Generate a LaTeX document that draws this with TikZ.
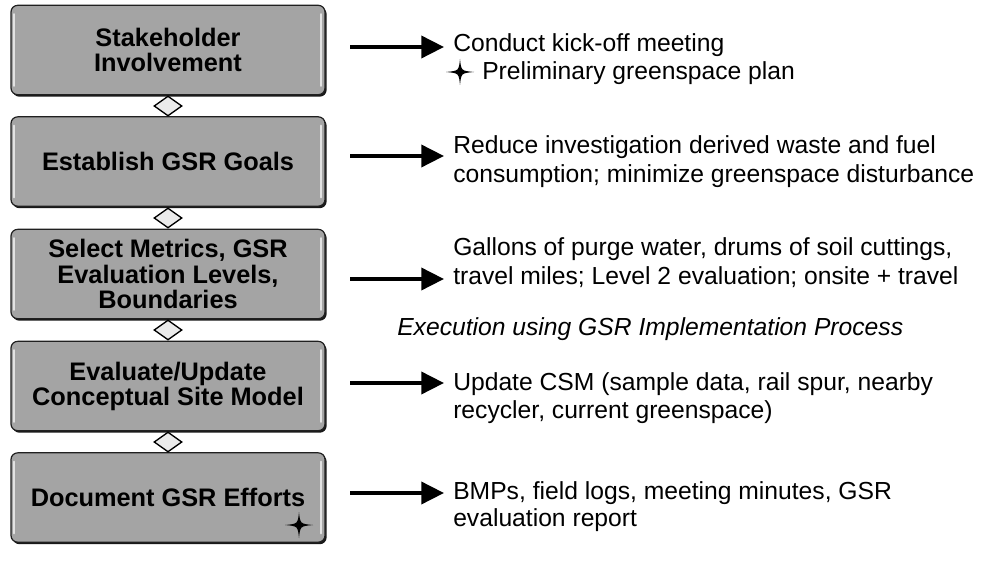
\documentclass[tikz,border=0pt]{standalone}
\usepackage{fontspec}
\setmainfont{Liberation Sans}
\usetikzlibrary{shapes.geometric,arrows.meta,shadows}
\definecolor{boxgray}{HTML}{A4A4A4}
\definecolor{boxline}{HTML}{202020}
\definecolor{hilite}{HTML}{E2E2E2}
\definecolor{diafill}{HTML}{EBEBEB}
\begin{document}
\begin{tikzpicture}[x=0.75pt,y=-0.75pt,
  stepbox/.style={rectangle, rounded corners=5pt, fill=boxgray, draw=boxline, line width=0.9pt,
    minimum width=235.5pt, minimum height=67pt, align=center, inner sep=2pt,
    font=\bfseries\fontsize{19}{18.8}\selectfont,
    drop shadow={shadow xshift=1.2pt, shadow yshift=-1.5pt, fill=black, opacity=0.9}},
  hl/.style={draw=hilite, line width=1.6pt, line cap=round},
  joint/.style={diamond, draw=black, line width=1pt, fill=diafill, inner sep=0pt,
    minimum width=21pt, minimum height=15pt},
  txt/.style={anchor=base west, inner sep=0pt, font=\fontsize{18.5}{21.75}\selectfont},
  itxt/.style={txt, font=\itshape\fontsize{18.5}{21.75}\selectfont},
  arr/.style={line width=2.7pt, -{Triangle[length=17pt,width=16.5pt]}},
  fstar/.pic={\fill[black] (0,-13) .. controls (1.2,-1.2) .. (14,0) .. controls (1.2,1.2) .. (0,13)
     .. controls (-1.2,1.2) .. (-14,0) .. controls (-1.2,-1.2) .. (0,-13) -- cycle;}
]
\useasboundingbox (0,0) rectangle (987,580);

% boxes
\node[stepbox] (b1) at (168,50) {Stakeholder\\Involvement};
\node[stepbox] (b2) at (168,161.5) {Establish GSR Goals};
\node[stepbox] (b3) at (168,274) {Select Metrics, GSR\\Evaluation Levels,\\Boundaries};
\node[stepbox] (b4) at (168,386) {Evaluate/Update\\Conceptual Site Model};
\node[stepbox] (b5) at (168,497.5) {Document GSR Efforts};

% highlights
\foreach \b in {b1,b2,b3,b4,b5}{
  \draw[hl] ([xshift=3pt,yshift=-7pt]\b.north west) -- ([xshift=3pt,yshift=7pt]\b.south west);
  \draw[hl] ([xshift=-3.5pt,yshift=-7pt]\b.north east) -- ([xshift=-3.5pt,yshift=7pt]\b.south east);
}

% joints
\node[joint] (d1) at (168,106) {};
\node[joint] (d2) at (168,218) {};
\node[joint] (d3) at (168,330) {};
\node[joint] (d4) at (168,442) {};

% star inside last box
\pic at (299,525) {fstar};

% texts
\node[txt] (t1a) at (453,52) {Conduct kick-off meeting};
\node[txt] (t1b) at (482,80) {Preliminary greenspace plan};
\pic at (460,72) {fstar};

\node[txt] (t2a) at (453,154) {Reduce investigation derived waste and fuel};
\node[txt] (t2b) at (453,183) {consumption; minimize greenspace disturbance};

\node[txt] (t3a) at (453,256) {Gallons of purge water, drums of soil cuttings,};
\node[txt] (t3b) at (453,285) {travel miles; Level 2 evaluation; onsite + travel};

\node[itxt] (ti) at (397,335) {Execution using GSR Implementation Process};

\node[txt] (t4a) at (453,390) {Update CSM (sample data, rail spur, nearby};
\node[txt] (t4b) at (453,418) {recycler, current greenspace)};

\node[txt] (t5a) at (453,499) {BMPs, field logs, meeting minutes, GSR};
\node[txt] (t5b) at (453,526) {evaluation report};

% arrows
\coordinate (a1s) at (350,47);  \coordinate (a1e) at (444,47);
\coordinate (a2s) at (350,156); \coordinate (a2e) at (444,156);
\coordinate (a3s) at (350,279); \coordinate (a3e) at (444,279);
\coordinate (a4s) at (350,383); \coordinate (a4e) at (444,383);
\coordinate (a5s) at (350,493); \coordinate (a5e) at (444,493);
\foreach \i in {1,...,5}{ \draw[arr] (a\i s) -- (a\i e); }
\end{tikzpicture}
\end{document}
